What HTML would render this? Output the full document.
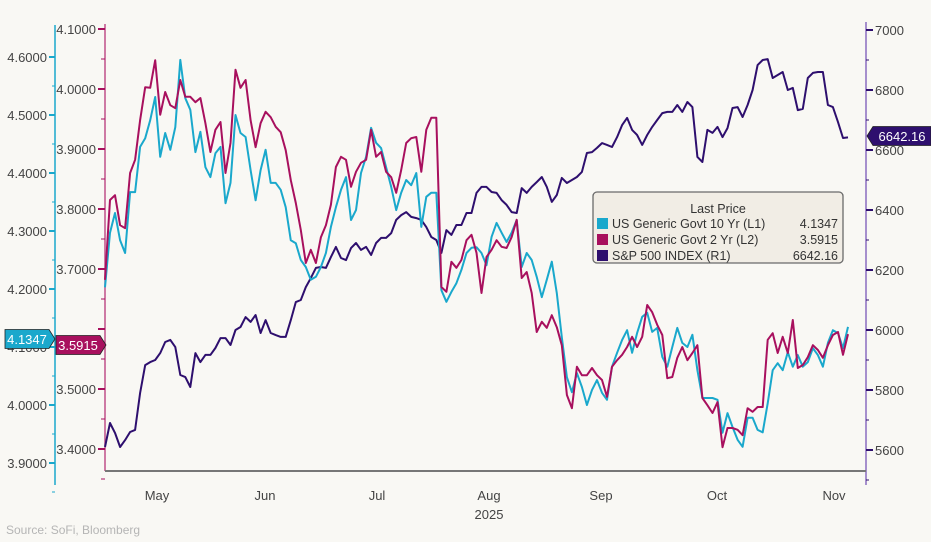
<!DOCTYPE html>
<html><head><meta charset="utf-8"><style>
body{margin:0;background:#f9f8f4;}
svg{display:block;font-family:"Liberation Sans",sans-serif;}
</style></head><body>
<svg id="chart" width="931" height="542" viewBox="0 0 931 542" xmlns="http://www.w3.org/2000/svg">
<rect x="0" y="0" width="931" height="542" fill="#f9f8f4"/>
<g id="axes"></g>
<g id="series"></g>
<g>
<rect x="593" y="192" width="250" height="71" rx="4" fill="#f1ede5" stroke="#6a6a6a" stroke-width="1.3"/>
<text x="718" y="213" text-anchor="middle" font-size="12.5" fill="#333">Last Price</text>
<g><rect x="597" y="218" width="11" height="11" fill="#1aa8cc"/><text x="612" y="228" font-size="12.5" fill="#333">US Generic Govt 10 Yr  (L1)</text><text x="838" y="228" text-anchor="end" font-size="12.5" fill="#333">4.1347</text></g>
<g><rect x="597" y="234" width="11" height="11" fill="#a8105e"/><text x="612" y="244" font-size="12.5" fill="#333">US Generic Govt 2 Yr  (L2)</text><text x="838" y="244" text-anchor="end" font-size="12.5" fill="#333">3.5915</text></g>
<g><rect x="597" y="250" width="11" height="11" fill="#2e0f6e"/><text x="612" y="260" font-size="12.5" fill="#333">S&amp;P 500 INDEX  (R1)</text><text x="838" y="260" text-anchor="end" font-size="12.5" fill="#333">6642.16</text></g>
</g>
<text x="6" y="534" font-size="12" fill="#b5b5b5">Source: SoFi, Bloomberg</text>
</svg>
<script>
const months = ["May","Jun","Jul","Aug","Sep","Oct","Nov"];
const monthX = [157,265,377,489,601,717,834];
const l1Ticks = [4.6,4.5,4.4,4.3,4.2,4.1,4.0,3.9];
const l2Ticks = [4.1,4.0,3.9,3.8,3.7,3.6,3.5,3.4];
const r1Ticks = [7000,6800,6600,6400,6200,6000,5800,5600];
const tenYr = [4.203,4.297,4.331,4.284,4.262,4.367,4.367,4.445,4.460,4.491,
4.531,4.428,4.469,4.440,4.479,4.595,4.529,4.509,4.436,4.471,
4.410,4.393,4.434,4.445,4.348,4.383,4.500,4.469,4.462,4.405,
4.353,4.405,4.440,4.383,4.383,4.371,4.341,4.284,4.279,4.250,
4.238,4.216,4.221,4.238,4.262,4.307,4.341,4.371,4.393,4.319,
4.336,4.400,4.428,4.478,4.452,4.443,4.410,4.376,4.336,4.366,
4.388,4.379,4.400,4.307,4.359,4.366,4.366,4.198,4.178,4.195,
4.210,4.233,4.262,4.271,4.272,4.262,4.241,4.290,4.314,4.297,
4.281,4.297,4.319,4.238,4.262,4.250,4.221,4.186,4.216,4.247,
4.193,4.117,4.048,4.022,4.055,4.031,4.000,4.026,4.043,4.021,
4.009,4.066,4.090,4.112,4.129,4.090,4.124,4.152,4.159,4.126,
4.133,4.083,4.066,4.100,4.133,4.107,4.100,4.121,4.060,4.012,
4.012,4.012,4.009,3.952,3.986,3.962,3.940,3.928,3.978,3.978,
3.957,3.953,4.003,4.060,4.072,4.060,4.091,4.066,4.086,4.066,
4.074,4.098,4.086,4.066,4.107,4.129,4.124,4.098,4.1347];
const twoYr = [3.682,3.815,3.823,3.773,3.768,3.860,3.882,3.948,4.003,4.002,
4.048,3.957,3.995,3.973,3.968,4.015,3.987,3.987,3.978,3.985,
3.943,3.895,3.932,3.945,3.860,3.910,4.032,4.002,4.015,3.948,
3.903,3.943,3.962,3.953,3.937,3.928,3.898,3.848,3.810,3.765,
3.710,3.732,3.710,3.753,3.773,3.807,3.870,3.887,3.882,3.837,
3.862,3.877,3.882,3.932,3.887,3.895,3.862,3.853,3.827,3.865,
3.910,3.918,3.920,3.862,3.932,3.952,3.952,3.670,3.662,3.712,
3.702,3.715,3.748,3.757,3.727,3.660,3.720,3.732,3.748,3.737,
3.735,3.753,3.782,3.685,3.695,3.660,3.595,3.612,3.602,3.623,
3.603,3.573,3.490,3.468,3.537,3.523,3.523,3.535,3.523,3.515,
3.487,3.537,3.548,3.557,3.570,3.587,3.570,3.587,3.640,3.628,
3.607,3.590,3.518,3.520,3.552,3.570,3.548,3.560,3.573,3.485,
3.473,3.460,3.478,3.403,3.435,3.435,3.432,3.423,3.468,3.462,
3.470,3.470,3.582,3.593,3.560,3.587,3.560,3.615,3.535,3.540,
3.553,3.573,3.565,3.552,3.573,3.590,3.595,3.557,3.5915];
const spx = [5610,5690,5657,5610,5633,5660,5667,5790,5883,5893,
5900,5923,5960,5967,5943,5850,5843,5810,5923,5893,
5917,5917,5940,5973,5973,5950,6000,6010,6043,6027,
6050,5990,6033,5990,5983,5977,5977,6033,6093,6100,
6143,6173,6207,6210,6207,6243,6277,6240,6233,6273,
6290,6267,6277,6250,6290,6307,6307,6323,6367,6383,
6393,6377,6373,6367,6343,6310,6300,6257,6333,6317,
6350,6350,6390,6390,6457,6477,6477,6460,6457,6433,
6417,6393,6390,6473,6457,6477,6493,6510,6477,6427,
6450,6507,6490,6500,6510,6527,6590,6593,6607,6623,
6617,6610,6643,6683,6707,6667,6650,6617,6650,6677,
6700,6723,6727,6727,6750,6727,6760,6743,6577,6560,
6667,6657,6677,6643,6673,6740,6743,6710,6750,6800,
6883,6900,6903,6840,6850,6860,6800,6807,6733,6737,
6840,6857,6860,6860,6750,6743,6693,6640,6642.16];

const NS="http://www.w3.org/2000/svg";
const yL1 = v => 57 + (4.6 - v) * 580;
const yL2 = v => 29 + (4.1 - v) * 600;
const yR1 = v => 30 + (7000 - v) * 0.3;
const xI = i => 105 + i * (743 / (spx.length - 1));
function mk(tag, attrs, parent){const e=document.createElementNS(NS,tag);for(const k in attrs)e.setAttribute(k,attrs[k]);parent.appendChild(e);return e;}
const axes=document.getElementById('axes'), ser=document.getElementById('series');

const gL1=mk('g',{},axes);


mk('line',{x1:55,y1:25,x2:55,y2:485,stroke:'#1aa8cc','stroke-width':1.5},gL1);
l1Ticks.forEach(v=>{const y=yL1(v);
 mk('line',{x1:49,y1:y,x2:55,y2:y,stroke:'#1aa8cc','stroke-width':2},gL1);
 mk('line',{x1:52,y1:y+29,x2:55,y2:y+29,stroke:'#1aa8cc','stroke-width':1},gL1);
 const t=mk('text',{x:47,y:y+5,'text-anchor':'end','font-size':13,fill:'#444'},gL1);t.textContent=v.toFixed(4);});
const gL2=mk('g',{},axes);


mk('line',{x1:105,y1:24,x2:105,y2:471,stroke:'#c0508a','stroke-width':1.5},gL2);
l2Ticks.forEach(v=>{const y=yL2(v);
 mk('line',{x1:98,y1:y,x2:105,y2:y,stroke:'#a8105e','stroke-width':2},gL2);
 mk('line',{x1:101,y1:y+30,x2:105,y2:y+30,stroke:'#a8105e','stroke-width':1},gL2);
 if(Math.abs(v-3.6)>0.01){const t=mk('text',{x:96,y:y+5,'text-anchor':'end','font-size':13,fill:'#444'},gL2);t.textContent=v.toFixed(4);}});
const gR=mk('g',{},axes);


mk('line',{x1:866,y1:22,x2:866,y2:485,stroke:'#8a6cc0','stroke-width':1.5},gR);
r1Ticks.forEach(v=>{const y=yR1(v);
 mk('line',{x1:866,y1:y,x2:873,y2:y,stroke:'#2e0f6e','stroke-width':2},gR);
 mk('line',{x1:866,y1:y+30,x2:869,y2:y+30,stroke:'#2e0f6e','stroke-width':1},gR);
 const t=mk('text',{x:875,y:y+5,'font-size':13,fill:'#444'},gR);t.textContent=v;});
const gX=mk('g',{},axes);


mk('line',{x1:105,y1:471,x2:866,y2:471,stroke:'#777','stroke-width':2},gX);
months.forEach((m,i)=>{const t=mk('text',{x:monthX[i],y:500,'text-anchor':'middle','font-size':13,fill:'#444'},gX);t.textContent=m;});
const yr=mk('text',{x:489,y:519,'text-anchor':'middle','font-size':13,fill:'#444'},gX);yr.textContent='2025';

function line(data,fy,color,name){
 const d=data.map((v,i)=>(i?'L':'M')+xI(i).toFixed(1)+' '+fy(v).toFixed(1)).join(' ');
 const p=mk('path',{d:d,fill:'none',stroke:color,'stroke-width':2,'stroke-linejoin':'round'},ser);
 
 
}
line(spx,yR1,'#2e0f6e','sp500-line');
line(tenYr,yL1,'#1aa8cc','10yr-yield-line');
line(twoYr,yL2,'#a8105e','2yr-yield-line');

function tag(x,y,w,txt,color,dir,name){
 const g=mk('g',{},axes.parentNode);
 
 
 const h=19,t=y-h/2;
 let pts = dir==='right' ? `${x},${t} ${x+w},${t} ${x+w+6},${y} ${x+w},${t+h} ${x},${t+h}` : `${x},${y} ${x+6},${t} ${x+6+w},${t} ${x+6+w},${t+h} ${x+6},${t+h}`;
 mk('polygon',{points:pts,fill:color,stroke:'#222','stroke-width':0.8},g);
 const tx=mk('text',{x:dir==='right'?x+w/2:x+6+w/2,y:y+5,'text-anchor':'middle','font-size':13,fill:'#fff'},g);tx.textContent=txt;
}
tag(5,339,44,tenYr[tenYr.length-1].toFixed(4),'#1aa8cc','right','last-value-10yr');
tag(56,345,44,twoYr[twoYr.length-1].toFixed(4),'#a8105e','right','last-value-2yr');
tag(867,136,58,spx[spx.length-1].toFixed(2),'#2e0f6e','left','last-value-sp500');
</script>
</body></html>
